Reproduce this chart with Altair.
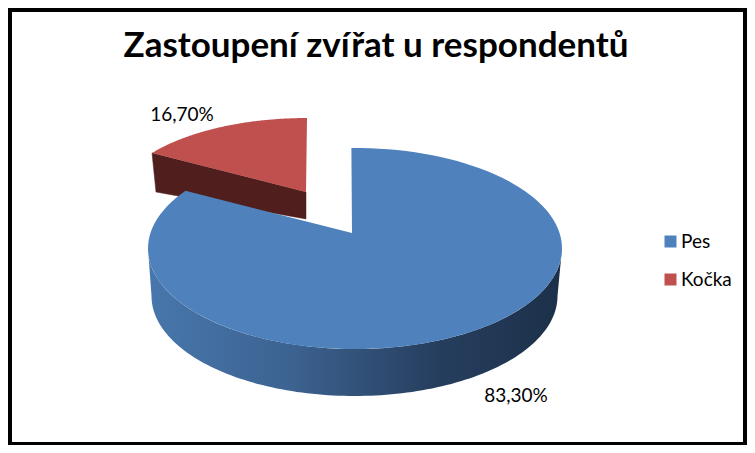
import math
import altair as alt

# --- values
categories = ["Pes", "Kočka"]
shares = [83.3, 16.7]
labels = ["83,30%", "16,70%"]
colors = ["#4F81BD", "#C0504D"]
title_text = "Zastoupení zvířat u respondentů"

W, H = 739, 437
OFF = 8  # page margin; geometry below is in window pixels


def arc(cx, cy, rx, ry, t0, t1, n=120):
    pts = []
    for i in range(n + 1):
        t = math.radians(t0 + (t1 - t0) * i / n)
        pts.append([cx + rx * math.sin(t), cy - ry * math.cos(t)])
    return pts


def feature(ring, name=None):
    ring = ring + [ring[0]]
    return {"type": "Feature", "properties": {"name": name},
            "geometry": {"type": "Polygon", "coordinates": [ring]}}


scale = alt.Scale(domain=categories, range=colors)
legend = alt.Legend(orient="none", legendX=661 - OFF, legendY=232 - OFF, title=None,
                    symbolType="square", symbolSize=144, symbolStrokeWidth=0,
                    labelFont="Lato", labelFontSize=19, labelColor="#000000",
                    rowPadding=18, labelOffset=1)


def shapes(feats, **kw):
    return alt.Chart(alt.Data(values=feats)).mark_geoshape(**kw).project(
        type="identity", scale=1, translate=[-OFF, -OFF])


# blue slice: shares[0] of the turn, slightly widened by the perspective
blue_span = shares[0] * 3.6 * 1.0205
blue_start = -1
blue_top = arc(355, 248.5, 207, 100.5, blue_start, blue_start + blue_span)
blue_face = feature([[352, 233]] + blue_top, categories[0])
blue_side_ring = arc(355, 248.5, 207, 100.5, 90, 270) + arc(354.5, 296, 203, 100, 270, 90)
blue_side = feature(blue_side_ring)

# red slice: shares[1] of the turn, narrowed by the perspective
red_span = shares[1] * 3.6 * 0.892
red_top = arc(307, 204, 192.5, 86, -red_span, 0)
red_face = feature([[306, 192]] + red_top, categories[1])
red_side = feature([[152, 153], [156, 192], [306, 219], [306, 192]])

side_gradient = alt.LinearGradient(
    gradient="linear", x1=0, x2=1, y1=0, y2=0,
    stops=[alt.GradientStop(offset=0, color="#4877AD"),
           alt.GradientStop(offset=0.35, color="#3C6290"),
           alt.GradientStop(offset=0.7, color="#263E5E"),
           alt.GradientStop(offset=1, color="#1C3049")])

layers = [
    shapes([red_side], fill="#501F1D", stroke="#501F1D", strokeWidth=0.5),
    shapes([red_face], strokeWidth=0).encode(
        fill=alt.Fill("properties.name:N", scale=scale, legend=legend)),
    shapes([blue_side], fill=side_gradient, strokeWidth=0),
    shapes([blue_face], strokeWidth=0).encode(
        fill=alt.Fill("properties.name:N", scale=scale, legend=legend)),
]

text_rows = [
    {"t": labels[0], "x": 516 - OFF, "y": 396 - OFF},
    {"t": labels[1], "x": 182 - OFF, "y": 115 - OFF},
]
value_text = alt.Chart(alt.Data(values=text_rows)).mark_text(
    font="Lato", fontSize=19, color="#000000", align="center", baseline="middle"
).encode(x=alt.X("x:Q", scale=None), y=alt.Y("y:Q", scale=None), text="t:N")

title = alt.Chart(alt.Data(values=[{"t": title_text, "x": 376 - OFF, "y": 46 - OFF}])).mark_text(
    font="Lato", fontSize=35, fontWeight="bold", color="#000000", align="center", baseline="middle"
).encode(x=alt.X("x:Q", scale=None), y=alt.Y("y:Q", scale=None), text="t:N")

# frame: four black bars along the edges of the drawing
bars = [
    {"x": 0, "x2": W, "y": 0, "y2": 4},
    {"x": 0, "x2": 4, "y": 0, "y2": H},
    {"x": W - 4, "x2": W, "y": 0, "y2": H},
    {"x": 0, "x2": W, "y": H - 3, "y2": H},
]
frame = alt.Chart(alt.Data(values=bars)).mark_rect(color="#000000").encode(
    x=alt.X("x:Q", scale=None), x2="x2:Q", y=alt.Y("y:Q", scale=None), y2="y2:Q")

chart = alt.layer(*layers, value_text, title, frame).properties(
    width=W, height=H, padding=0, background="#FFFFFF",
    autosize=alt.AutoSizeParams(type="none", contains="content"),
).configure_view(stroke=None)

chart.save("out.html", embed_options={"renderer": "svg", "actions": False})
